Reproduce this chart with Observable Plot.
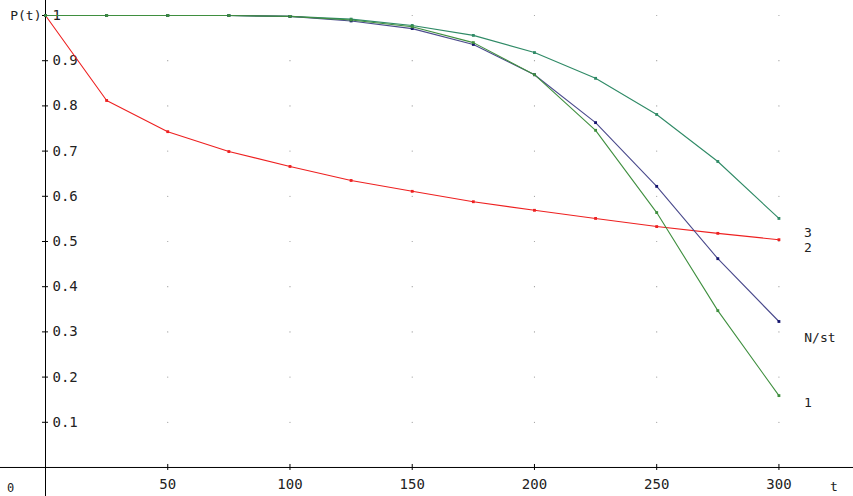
<!DOCTYPE html>
<html><head><meta charset="utf-8">
<script src="https://cdn.jsdelivr.net/npm/d3@7"></script>
<script src="https://cdn.jsdelivr.net/npm/@observablehq/plot@0.6"></script>
<style>
body{margin:0;background:#fff;}
svg{display:block;}
</style>
</head><body>
<div id="chart"></div>
<script>
const tValues = [0,25,50,75,100,125,150,175,200,225,250,275,300];
const curve1 = [1,1,1,1,0.998,0.99,0.975,0.94,0.869,0.746,0.564,0.347,0.159];
const curveNst = [1,1,1,1,0.998,0.988,0.971,0.936,0.869,0.763,0.622,0.462,0.323];
const curve2 = [1,0.812,0.743,0.699,0.666,0.635,0.611,0.588,0.569,0.551,0.533,0.518,0.504];
const curve3 = [1,1,1,1,0.998,0.992,0.978,0.956,0.918,0.861,0.781,0.677,0.551];
const xTicks = [50,100,150,200,250,300];
const yTicks = [0.1,0.2,0.3,0.4,0.5,0.6,0.7,0.8,0.9,1];
const yTickLabels = ["0.1","0.2","0.3","0.4","0.5","0.6","0.7","0.8","0.9","1"];

const seriesDefs = [
  {name:"3", values:curve3, color:"#2f8a66", label:"3", ldx:29, ldy:14},
  {name:"2", values:curve2, color:"#ee2020", label:"2", ldx:29, ldy:8},
  {name:"N/st", values:curveNst, color:"#4a4a8c", dot:"#14146e", label:"N/st", ldx:41, ldy:16},
  {name:"1", values:curve1, color:"#3f8f3f", label:"1", ldx:29, ldy:7}
];
const rows = seriesDefs.flatMap(s => tValues.map((t,i)=>({t, p:s.values[i], s:s.name})));
const grid = xTicks.flatMap(x => yTicks.map(y => ({x,y})));

const font = "'DejaVu Sans Mono', monospace";
const marks = [
  Plot.dot(grid, {x:"x", y:"y", r:0.6, fill:"#999", stroke:null}),
  Plot.ruleX([0], {stroke:"#000", strokeWidth:1}),
  Plot.ruleY([0], {stroke:"#000", strokeWidth:1}),
  Plot.ruleY(yTicks, {x1:0, x2:0, insetLeft:-3, insetRight:-3, stroke:"#000"}),
  Plot.ruleX(xTicks, {y1:0, y2:0, insetTop:-3, insetBottom:-3, stroke:"#000"}),
  Plot.text(yTicks, {x:0, y:d=>d, text:(d,i)=>yTickLabels[i], textAnchor:"start", dx:7, fontSize:14, fontFamily:font, fill:"#222"}),
  Plot.text(xTicks, {x:d=>d, y:0, text:d=>String(d), dy:17, fontSize:14, fontFamily:font, fill:"#222"}),
  ...seriesDefs.map(s => Plot.line(rows.filter(r=>r.s===s.name), {x:"t", y:"p", stroke:s.color, strokeWidth:1.1})),
  ...seriesDefs.map(s => Plot.dot(rows.filter(r=>r.s===s.name), {x:"t", y:"p", symbol:"square", r:1.6, fill:s.dot||s.color, stroke:null})),
  ...seriesDefs.map(s => Plot.text([s], {x:()=>tValues[tValues.length-1], y:d=>d.values[d.values.length-1], text:d=>d.label, dx:s.ldx, dy:s.ldy, fontSize:13, fontFamily:font, fill:"#222"})),
  Plot.text(["P(t)"], {x:0, y:1, text:d=>d, textAnchor:"end", dx:-4, fontSize:13, fontFamily:font, fill:"#222"}),
  Plot.text(["t"], {x:300, y:0, text:d=>d, dx:55, dy:19, fontSize:13, fontFamily:font, fill:"#222"}),
  Plot.text(["0"], {x:0, y:0, text:d=>d, dx:-35, dy:21, fontSize:12, fontFamily:font, fill:"#222"})
];

const chart = Plot.plot({
  width:853, height:496,
  marginTop:0, marginRight:0, marginBottom:0, marginLeft:0,
  x:{domain:[-18.41,330.5], axis:null},
  y:{domain:[-0.0642,1.0332], axis:null},
  style:{background:"#fff", overflow:"visible"},
  marks
});
document.getElementById("chart").appendChild(chart);
</script>
</body></html>
